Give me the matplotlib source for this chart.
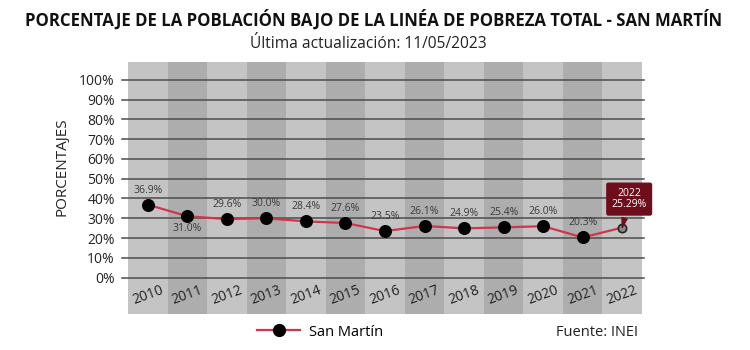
import matplotlib
matplotlib.use('Agg')
import matplotlib.pyplot as plt
from matplotlib.lines import Line2D

plt.rcParams['font.family'] = ['Open Sans', 'DejaVu Sans']

# data
years = ['2010', '2011', '2012', '2013', '2014', '2015', '2016',
         '2017', '2018', '2019', '2020', '2021', '2022']
pobreza = [36.9, 31.0, 29.6, 30.0, 28.4, 27.6, 23.5,
           26.1, 24.9, 25.4, 26.0, 20.3, 25.29]
y_ticks = [0, 10, 20, 30, 40, 50, 60, 70, 80, 90, 100]

line_red = '#d1354b'
col_light = '#c4c4c4'
col_dark = '#adadad'
grid_col = '#4d4d4d'

fig = plt.figure(figsize=(7.5, 3.5), dpi=100)
ax = fig.add_axes([128 / 750, 36 / 350, 514 / 750, 252 / 350])

x = list(range(len(years)))

# alternating column background
for i in x:
    ax.axvspan(i - 0.5, i + 0.5, color=col_light if i % 2 == 0 else col_dark,
               lw=0, zorder=0)

for t in y_ticks:
    ax.axhline(t, xmin=-0.012, xmax=1.004, color=grid_col, lw=1.1,
               zorder=1, clip_on=False)

ax.plot(x, pobreza, color=line_red, lw=1.6, zorder=2)
ax.scatter(x[:-1], pobreza[:-1], s=70, color='black', zorder=3)
ax.scatter(x[-1:], pobreza[-1:], s=36, color='#8a8a8a', edgecolor='#222222',
           linewidth=1.2, zorder=3)

# value labels
for i in x[:-1]:
    below = years[i] == '2011'
    ax.annotate(f'{pobreza[i]:.1f}%', (i, pobreza[i]),
                xytext=(0, -9 if below else 10.5), textcoords='offset points',
                ha='center', va='center', fontsize=7.5, color='#3a3a3a',
                zorder=4)

# tooltip for last point
ax.annotate(f'{years[-1]}\n{pobreza[-1]:.2f}%', (x[-1], pobreza[-1]),
            xytext=(5, 20.5), textcoords='offset points', ha='center',
            va='center', fontsize=7.5, color='white', linespacing=1.05,
            bbox=dict(boxstyle='round,pad=0.45,rounding_size=0.15',
                      fc='#6e0e1c', ec='#6e0e1c'),
            arrowprops=dict(arrowstyle='wedge,tail_width=0.5', fc='#6e0e1c',
                            ec='#6e0e1c', shrinkB=7.5),
            zorder=5)

# year labels inside the bottom band
for i in x:
    ax.text(i, -8.7, years[i], rotation=20, ha='center', va='center',
            fontsize=10, color='#222222', zorder=4)

ax.set_xlim(-0.5, len(years) - 0.5)
ax.set_ylim(-18.4, 109.0)
ax.set_xticks([])
ax.set_yticks(y_ticks)
ax.set_yticklabels([f'{t}%' for t in y_ticks], fontsize=10, color='#222222')
ax.tick_params(axis='y', length=0, pad=9.5)
for s in ax.spines.values():
    s.set_visible(False)

fig.text(374 / 750, 1 - 20 / 350, 'PORCENTAJE DE LA POBLACIÓN BAJO DE LA LINÉA DE POBREZA TOTAL - SAN MARTÍN',
         ha='center', va='center', fontsize=12.1, fontweight='bold', color='#111111')
fig.text(368 / 750, 1 - 44 / 350, 'Última actualización: 11/05/2023',
         ha='center', va='center', fontsize=11.2, color='#222222')
fig.text(62 / 750, 1 - 167 / 350, 'PORCENTAJES', rotation=90,
         ha='center', va='center', fontsize=11, color='#222222')

handle = Line2D([], [], color=line_red, lw=1.6, marker='o', markersize=8.5,
                markerfacecolor='black', markeredgecolor='black')
fig.legend([handle], ['San Martín'], loc='center', frameon=False,
           bbox_to_anchor=(320 / 750, 1 - 332 / 350), fontsize=10.5,
           handlelength=3.0, handletextpad=0.6)
fig.text(638 / 750, 1 - 332 / 350, 'Fuente: INEI', ha='right', va='center',
         fontsize=10.5, color='#222222')

fig.savefig('out.png', dpi=100)
